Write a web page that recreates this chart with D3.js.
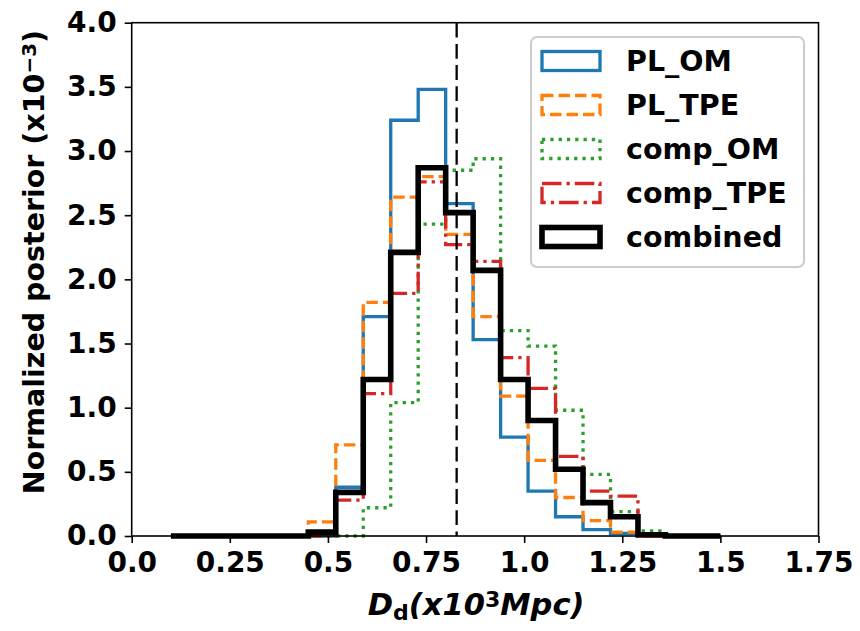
<!DOCTYPE html>
<html>
<head>
<meta charset="utf-8">
<script src="https://cdn.jsdelivr.net/npm/d3@7"></script>
<style>
  html, body { margin: 0; padding: 0; background: #fff; }
  svg { display: block; font-family: "DejaVu Sans", sans-serif; }
</style>
</head>
<body>
<svg id="chart" width="860" height="631"></svg>
<script>
// Histogram bin edges (x10^3 Mpc)
const binEdges = [0.10, 0.17, 0.24, 0.31, 0.38, 0.45, 0.52, 0.59, 0.66, 0.73,
                  0.80, 0.87, 0.94, 1.01, 1.08, 1.15, 1.22, 1.29, 1.36, 1.43, 1.50];

// Normalized posterior per bin (x10^-3)
const plOM     = [0, 0, 0, 0, 0, 0,    0.38, 1.71, 3.24, 3.48, 2.59, 1.53, 0.77, 0.35, 0.15, 0.05, 0.02, 0,    0, 0];
const plTPE    = [0, 0, 0, 0, 0, 0.11, 0.71, 1.82, 2.64, 2.80, 2.35, 1.71, 1.09, 0.59, 0.30, 0.12, 0.03, 0,    0, 0];
const compOM   = [0, 0, 0, 0, 0, 0,    0,    0.22, 1.04, 2.43, 2.85, 2.94, 1.60, 1.48, 0.98, 0.48, 0.19, 0.04, 0, 0];
const compTPE  = [0, 0, 0, 0, 0, 0,    0.28, 1.11, 1.89, 2.76, 2.27, 2.14, 1.39, 1.15, 0.62, 0.35, 0.31, 0,    0, 0];
const combined = [0, 0, 0, 0, 0, 0.03, 0.34, 1.22, 2.21, 2.87, 2.52, 2.07, 1.22, 0.90, 0.52, 0.26, 0.15, 0.01, 0, 0];

const seriesNames = ["PL_OM", "PL_TPE", "comp_OM", "comp_TPE", "combined"];
const seriesData  = [plOM, plTPE, compOM, compTPE, combined];

const markerValue = 0.828;   // dashed reference distance

const xTicks = [0, 0.25, 0.5, 0.75, 1.0, 1.25, 1.5, 1.75];
const xTickLabels = ["0.0", "0.25", "0.5", "0.75", "1.0", "1.25", "1.5", "1.75"];
const yTicks = [0, 0.5, 1.0, 1.5, 2.0, 2.5, 3.0, 3.5, 4.0];
const yTickLabels = ["0.0", "0.5", "1.0", "1.5", "2.0", "2.5", "3.0", "3.5", "4.0"];

// Line styles
const styles = [
  { color: "#1f77b4", width: 3.3, dash: null },
  { color: "#ff7f0e", width: 3.3, dash: "11.5,5" },
  { color: "#2ca02c", width: 3.3, dash: "3.3,5" },
  { color: "#d62728", width: 3.3, dash: "19.5,5,3.3,5" },
  { color: "#000000", width: 5.6, dash: null }
];

const svg = d3.select("#chart");
const margin = { left: 131.7, top: 22.7, right: 41.5, bottom: 95 };
const W = 860, H = 631;

const x = d3.scaleLinear().domain([0, 1.75]).range([margin.left, W - margin.right]);
const y = d3.scaleLinear().domain([0, 4.0]).range([H - margin.bottom, margin.top]);

// step outline for a histogram
function stepPoints(edges, h) {
  const pts = [[edges[0], 0]];
  for (let i = 0; i < h.length; i++) {
    pts.push([edges[i], h[i]]);
    pts.push([edges[i + 1], h[i]]);
  }
  pts.push([edges[edges.length - 1], 0]);
  return pts;
}
const line = d3.line().x(d => x(d[0])).y(d => y(d[1]));

const plot = svg.append("g");
seriesData.forEach((vals, i) => {
  const s = styles[i];
  plot.append("path")
    .attr("d", line(stepPoints(binEdges, vals)))
    .attr("fill", "none")
    .attr("stroke", s.color)
    .attr("stroke-width", s.width)
    .attr("stroke-dasharray", s.dash)
    .attr("stroke-linejoin", "miter")
    .attr("stroke-linecap", "butt");
});

// vertical dashed marker
plot.append("line")
  .attr("x1", x(markerValue)).attr("x2", x(markerValue))
  .attr("y1", y(4.0)).attr("y2", y(0))
  .attr("stroke", "#000").attr("stroke-width", 2.3)
  .attr("stroke-dasharray", "14.8,6.4");

// axes
const xAxis = d3.axisBottom(x).tickValues(xTicks)
  .tickFormat((d, i) => xTickLabels[i]).tickSize(7).tickPadding(9);
const yAxis = d3.axisLeft(y).tickValues(yTicks)
  .tickFormat((d, i) => yTickLabels[i]).tickSize(7).tickPadding(8);

const gx = svg.append("g").attr("transform", `translate(0,${y(0)})`).call(xAxis);
const gy = svg.append("g").attr("transform", `translate(${x(0)},0)`).call(yAxis);
[gx, gy].forEach(g => {
  g.select(".domain").remove();
  g.selectAll(".tick line").attr("stroke", "#000").attr("stroke-width", 1.6);
  g.selectAll(".tick text")
    .attr("fill", "#000")
    .style("font-family", "'DejaVu Sans', sans-serif")
    .style("font-size", "28px")
    .style("font-weight", "bold");
});

// frame
svg.append("rect")
  .attr("x", x(0)).attr("y", y(4.0))
  .attr("width", x(1.75) - x(0)).attr("height", y(0) - y(4.0))
  .attr("fill", "none").attr("stroke", "#000").attr("stroke-width", 1.6);

// axis titles
const xl = svg.append("text")
  .attr("x", (x(0) + x(1.75)) / 2 + 1).attr("y", 615)
  .attr("text-anchor", "middle")
  .style("font-size", "30.5px").style("font-weight", "bold");
xl.append("tspan").style("font-style", "italic").text("D");
xl.append("tspan").attr("baseline-shift", "-22%").style("font-size", "22px").text("d");
xl.append("tspan").style("font-style", "italic").text("(x10");
xl.append("tspan").attr("baseline-shift", "38%").style("font-size", "22px").text("3");
xl.append("tspan").style("font-style", "italic").text("Mpc)");

const yl = svg.append("text")
  .attr("transform", "translate(44,262) rotate(-90)")
  .attr("text-anchor", "middle")
  .style("font-size", "28.5px").style("font-weight", "bold");
yl.append("tspan").text("Normalized posterior (x10");
yl.append("tspan").attr("baseline-shift", "38%").style("font-size", "20px").text("\u22123");
yl.append("tspan").text(")");

// legend
const leg = svg.append("g");
leg.append("rect")
  .attr("x", 531).attr("y", 37).attr("width", 273).attr("height", 230)
  .attr("rx", 6).attr("ry", 6)
  .attr("fill", "#fff").attr("fill-opacity", 0.8)
  .attr("stroke", "#cccccc").attr("stroke-width", 2);
const rowY = d3.scalePoint().domain(seriesNames).range([61, 237]);
seriesNames.forEach((name, i) => {
  const s = styles[i];
  const cy = rowY(name);
  leg.append("rect")
    .attr("x", 542).attr("y", cy - 9.5).attr("width", 58).attr("height", 19)
    .attr("fill", "none")
    .attr("stroke", s.color).attr("stroke-width", s.width)
    .attr("stroke-dasharray", s.dash);
  leg.append("text")
    .attr("x", 626).attr("y", cy).attr("dy", "0.36em")
    .style("font-size", "28.5px").style("font-weight", "bold")
    .text(name);
});
</script>
</body>
</html>
